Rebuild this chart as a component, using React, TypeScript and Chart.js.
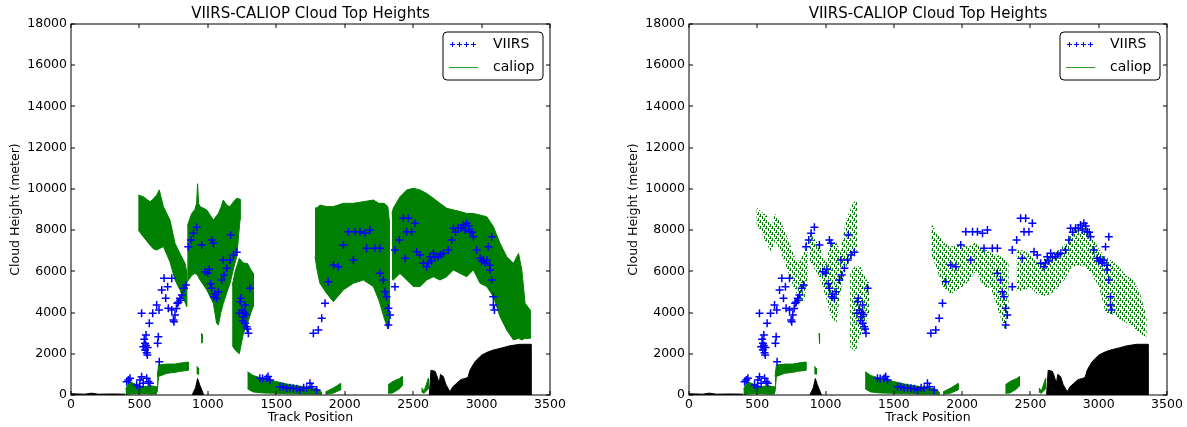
import React, { useEffect, useRef } from 'react';
import { Chart, registerables } from 'chart.js';
Chart.register(...registerables);

const TITLE = 'VIIRS-CALIOP Cloud Top Heights';
const X_LABEL = 'Track Position';
const Y_LABEL = 'Cloud Height (meter)';
const LEGEND_LABELS = ['VIIRS', 'caliop'];
const xTicks = [0, 500, 1000, 1500, 2000, 2500, 3000, 3500];
const yTicks = [0, 2000, 4000, 6000, 8000, 10000, 12000, 14000, 16000, 18000];

// VIIRS cloud top heights (track position, meters)
const viirsX = [
  419, 431, 407, 480, 504, 516, 528, 553, 577, 565, 500, 516, 548, 541, 528, 541, 558, 535, 548, 560, 553,
  572, 597, 638, 633, 645, 626, 643, 663, 680, 706, 692, 736, 711, 736, 748, 752, 760, 770, 777, 785, 796,
  800, 809, 826, 840, 857, 877, 894, 918, 955, 1028, 1040, 979, 999, 1010, 1020, 1028, 1045, 1050, 1064,
  1077, 1101, 1118, 1138, 1162, 1187, 1211, 1113, 1167, 1235, 1240, 1248, 1255, 1260, 1265, 1272, 1278,
  1290, 1296, 1284, 1308, 1230, 1272, 1380, 1400, 1429, 1440, 1454, 1527, 1550, 1576, 1600, 1625, 1650,
  1673, 1700, 1722, 1746, 1760, 1795, 1771, 1807, 1832, 1856, 1880, 1917, 1954, 1990, 2027, 2076, 2112,
  2149, 2185, 2063, 2160, 2221, 2258, 2258, 2282, 2294, 2306, 2319, 2331, 2319, 2367, 2367, 2399, 2428,
  2465, 2453, 2489, 2514, 2526, 2441, 2550, 2575, 2599, 2610, 2623, 2635, 2648, 2660, 2684, 2700, 2721,
  2757, 2782, 2794, 2810, 2830, 2850, 2867, 2880, 2891, 2905, 2916, 2930, 2940, 2964, 2989, 3000, 3013,
  3025, 3038, 3050, 3060, 3074, 3062, 3074, 3086, 3086, 3094,
];
const viirsY = [
  727, 808, 646, 485, 727, 889, 566, 808, 566, 646, 405, 3962, 2911, 2507, 2345, 2183, 1940, 2700, 2400, 2300, 2050,
  3477, 3962, 2831, 2507, 1617, 4366, 4124, 5095, 5661, 5257, 4690, 5661, 4205, 4124, 3639, 3550, 3882, 4200, 4447, 4500, 4690,
  4600, 4851, 5176, 5337, 7197, 7521, 7844, 8135, 7278, 7521, 7359, 5985, 5904, 6100, 5400, 5176, 4771, 4900, 4690,
  5014, 5580, 5823, 6147, 6550, 6793, 6922, 6550, 7763, 4528, 4700, 4124, 3600, 3801, 4000, 3477, 3900,
  3200, 2992, 3316, 5176, 3962, 4366, 808, 800, 808, 900, 727, 405, 400, 323, 350, 323, 300,
  243, 350, 323, 566, 400, 243, 2992, 3154, 3720, 4447, 5499, 6308, 6227, 7278, 7925, 7925, 7925,
  7844, 8006, 6550, 7116, 7116, 7116, 5904, 5580, 5014, 4771, 4205, 3882, 3397, 5257, 7036, 7521, 8572,
  8572, 7925, 7925, 8329, 6955, 6631, 6793, 6389, 6227, 6400, 6712, 6500, 6874, 6700, 6712, 6800, 6874,
  7036, 7521, 8087, 7900, 8087, 8100, 8248, 8000, 8329, 8200, 7925, 7900, 7682, 7036, 6631, 6500, 6550,
  6400, 6550, 7197, 6300, 7682, 6065, 5580, 4771, 4366, 4124,
];

// CALIOP upper cloud layer envelope (dense profile, left panel); null separates segments
const caliopX = [
  492, 528, 577, 600, 626, 645, 675, 723, 760, 796, 833, 845, null,
  850, 882, 905, 918, 925, 932, 943, 992, 1040, 1064, 1077, 1095, 1113, 1140, 1162, 1190, 1211, 1235, null,
  1178, 1200, 1230, 1260, 1290, 1315, 1332, null,
  1783, 1800, 1819, 1868, 1917, 1990, 2063, 2136, 2209, 2250, 2290, 2315, 2325, null,
  2345, 2355, 2404, 2453, 2502, 2550, 2599, 2648, 2696, 2745, 2794, 2843, 2891, 2940, 2989, 3038, 3086, 3135,
  3184, 3233, 3270, 3294, 3318, 3355,
];
const caliopTop = [
  9700, 9620, 9380, 9500, 9700, 9950, 9140, 8490, 7360, 6870, 6390, 6000, null,
  8200, 8810, 9000, 9300, 10250, 9300, 9140, 8980, 8490, 8700, 8810, 9100, 9460, 9200, 9140, 9400, 9540, 9500, null,
  5300, 6000, 6630, 6400, 6380, 6070, 5900, null,
  9060, 9100, 9220, 9140, 9140, 9300, 9300, 9380, 9460, 9300, 9300, 9140, 8500, null,
  8800, 9060, 9620, 9950, 10030, 9950, 9780, 9540, 9300, 9060, 8980, 8900, 8810, 8810, 8730, 8650, 8170, 7360,
  6710, 6390, 6870, 6070, 4450, 4120,
];
const caliopBottom = [
  8000, 7680, 7280, 7100, 7030, 7100, 7200, 6470, 5580, 5100, 4500, 4300, null,
  5500, 5800, 5900, 5850, 5800, 5700, 5580, 5100, 4450, 3480, 3400, 4000, 4450, 5000, 5420, 6200, 6710, 8490, null,
  2400, 2180, 2000, 3000, 3480, 4000, 4300, null,
  6710, 6000, 5420, 4930, 4530, 5100, 5420, 5580, 5260, 4600, 3700, 3200, 3400, null,
  5600, 5580, 5900, 5580, 5260, 5260, 5580, 5740, 5580, 5740, 6070, 5900, 5740, 6070, 5420, 5260, 4770, 3800,
  3150, 2670, 2750, 2670, 2750, 2750,
];

// CALIOP upper layer, filtered (right panel)
const caliopFiltX = [
  495, 530, 570, 605, 630, 680, 730, 780, 815, 840, 870, null,
  880, 950, 1000, 1040, 1080, 1110, 1150, 1200, 1230, null,
  1180, 1220, 1260, 1300, 1325, null,
  1776, 1862, 1920, 1990, 2050, 2100, 2160, 2210, 2260, 2310, 2340, null,
  2400, 2450, 2500, 2550, 2600, 2650, 2700, 2750, 2800, 2850, 2900, 2950, 3000, 3050, 3100, 3150, 3200, 3250, 3300, 3350,
];
const caliopFiltTop = [
  9100, 8900, 8700, 8200, 8800, 8300, 7500, 6600, 6500, 6900, 7800, null,
  7900, 7300, 6400, 7400, 7400, 7000, 8500, 9300, 9500, null,
  5900, 6300, 6200, 5600, 5400, null,
  8300, 7400, 7200, 7300, 7200, 7400, 7100, 6900, 6800, 6600, 6400, null,
  7100, 7000, 6800, 6500, 6600, 6900, 7000, 7300, 8000, 8200, 8100, 7700, 7100, 6700, 6500, 6200, 5800, 5600, 5000, 3800,
];
const caliopFiltBottom = [
  8300, 7900, 7300, 6900, 7500, 6800, 5900, 5000, 4700, 4400, 5600, null,
  6500, 5800, 4800, 3800, 3500, 5000, 6200, 6800, 7000, null,
  2300, 2100, 3000, 3600, 4100, null,
  6800, 5200, 4900, 5200, 5500, 6000, 5200, 5200, 4200, 3200, 4200, null,
  5000, 5100, 5200, 4900, 4800, 4900, 5200, 5600, 6200, 6300, 6200, 5800, 5300, 4000, 3900, 3700, 3500, 3300, 3000, 2800,
];

// CALIOP low cloud envelope (both panels)
const caliopLowX = [
  400, 430, 480, 530, 580, 625, null,
  630, 640, 700, 760, 800, 856, null,
  918, 932, null,
  952, 958, null,
  1290, 1330, 1400, 1500, 1600, 1700, 1800, 1830, null,
  1860, 1920, 1970, null,
  2317, 2350, 2400, 2420, null,
  2562, 2580, 2611,
];
const caliopLowTop = [
  300, 650, 500, 400, 450, 400, null,
  900, 1450, 1500, 1500, 1550, 1600, null,
  1400, 1300, null,
  3000, 2950, null,
  1130, 950, 800, 650, 500, 400, 300, 150, null,
  150, 350, 560, null,
  500, 650, 800, 900, null,
  350, 200, 800,
];
const caliopLowBottom = [
  0, 50, 60, 60, 50, 50, null,
  150, 900, 1050, 1100, 1150, 1200, null,
  1050, 1000, null,
  2500, 2550, null,
  300, 150, 100, 80, 60, 50, 50, 40, null,
  40, 100, 250, null,
  80, 100, 300, 450, null,
  150, 80, 300,
];

// Surface elevation (black)
const terrainX = [
  0, 100, 150, 200, 300, 395, null,
  885, 910, 925, 940, 970, null,
  2618, 2630, 2660, 2670, 2690, 2700, 2720, 2740, 2769, 2790, 2818, 2850, 2879, 2900, 2916, 2952, 3001, 3050,
  3086, 3135, 3208, 3281, 3361, 3361,
];
const terrainY = [
  60, 40, 90, 40, 50, 40, null,
  0, 350, 800, 500, 0, null,
  0, 1200, 1150, 1000, 570, 1000, 900, 500, 160, 400, 570, 750, 800, 850, 1210, 1620, 1940, 2100,
  2180, 2260, 2390, 2460, 2460, 0,
];

const GREEN = '#008000';
const BLUE = '#0000ff';
const FONT = '"DejaVu Sans", sans-serif';

function splitSegments(xs: (number | null)[], a: (number | null)[], b: (number | null)[]) {
  const segs: { x: number; top: number; bot: number }[][] = [];
  let cur: { x: number; top: number; bot: number }[] = [];
  xs.forEach((x, i) => {
    if (x === null) {
      if (cur.length) segs.push(cur);
      cur = [];
    } else cur.push({ x, top: a[i] as number, bot: b[i] as number });
  });
  if (cur.length) segs.push(cur);
  return segs;
}

// one closed polygon (top edge forward, bottom edge back) per segment
function bandDatasets(xs: any[], tops: any[], bots: any[], fill: any, edge: string, edgeWidth: number) {
  return splitSegments(xs, tops, bots).map((seg) => {
    const poly = [
      ...seg.map((p) => ({ x: p.x, y: p.top })),
      ...seg
        .slice()
        .reverse()
        .map((p) => ({ x: p.x, y: p.bot })),
    ];
    return {
      data: poly,
      fill: 'shape',
      backgroundColor: fill,
      borderColor: edge,
      borderWidth: edgeWidth,
      pointRadius: 0,
      showLine: true,
    };
  });
}

function withGaps(xs: any[], ys: any[]) {
  let last = 0;
  return xs.map((x, i) => {
    if (x === null) return { x: last, y: null };
    last = x;
    return { x, y: ys[i] };
  });
}

const decorPlugin = {
  id: 'decor',
  afterDraw(chart: any) {
    const { ctx, chartArea: a, scales } = chart;
    ctx.save();
    ctx.strokeStyle = '#000';
    ctx.lineWidth = 1;
    ctx.strokeRect(Math.round(a.left), Math.round(a.top), Math.round(a.right - a.left), Math.round(a.bottom - a.top));
    const L = 4;
    ctx.beginPath();
    xTicks.forEach((v) => {
      const px = Math.round(scales.x.getPixelForValue(v));
      ctx.moveTo(px, a.bottom);
      ctx.lineTo(px, a.bottom - L);
      ctx.moveTo(px, a.top);
      ctx.lineTo(px, a.top + L);
    });
    yTicks.forEach((v) => {
      const py = Math.round(scales.y.getPixelForValue(v));
      ctx.moveTo(a.left, py);
      ctx.lineTo(a.left + L, py);
      ctx.moveTo(a.right, py);
      ctx.lineTo(a.right - L, py);
    });
    ctx.stroke();
    ctx.fillStyle = '#000';
    ctx.font = `15px ${FONT}`;
    ctx.textAlign = 'center';
    ctx.textBaseline = 'middle';
    ctx.fillText(TITLE, (a.left + a.right) / 2, 14.5);
    const lx = Math.round(a.right - 107);
    const ly = Math.round(a.top + 8);
    const lw = 100;
    const lh = 48;
    const r = 4;
    ctx.beginPath();
    ctx.moveTo(lx + r, ly);
    ctx.lineTo(lx + lw - r, ly);
    ctx.arcTo(lx + lw, ly, lx + lw, ly + r, r);
    ctx.lineTo(lx + lw, ly + lh - r);
    ctx.arcTo(lx + lw, ly + lh, lx + lw - r, ly + lh, r);
    ctx.lineTo(lx + r, ly + lh);
    ctx.arcTo(lx, ly + lh, lx, ly + lh - r, r);
    ctx.lineTo(lx, ly + r);
    ctx.arcTo(lx, ly, lx + r, ly, r);
    ctx.closePath();
    ctx.fillStyle = '#fff';
    ctx.fill();
    ctx.strokeStyle = '#000';
    ctx.stroke();
    ctx.strokeStyle = BLUE;
    ctx.lineWidth = 1;
    ctx.beginPath();
    for (let k = 0; k < 4; k++) {
      const cx = lx + 9.5 + k * 7;
      const cy = ly + 12.5;
      ctx.moveTo(cx - 2.5, cy);
      ctx.lineTo(cx + 2.5, cy);
      ctx.moveTo(cx, cy - 2.5);
      ctx.lineTo(cx, cy + 2.5);
    }
    ctx.stroke();
    ctx.strokeStyle = '#2a9a2a';
    ctx.lineWidth = 1;
    ctx.beginPath();
    ctx.moveTo(lx + 6, ly + 35.5);
    ctx.lineTo(lx + 35, ly + 35.5);
    ctx.stroke();
    ctx.fillStyle = '#000';
    ctx.font = `14px ${FONT}`;
    ctx.textAlign = 'left';
    ctx.fillText(LEGEND_LABELS[0], lx + 50, ly + 12.5);
    ctx.fillText(LEGEND_LABELS[1], lx + 50, ly + 35);
    ctx.restore();
  },
};

function makeConfig(filtered: boolean, pattern: any, rightPad: number) {
  const upper = filtered
    ? bandDatasets(caliopFiltX, caliopFiltTop, caliopFiltBottom, pattern, 'rgba(0,0,0,0)', 0)
    : bandDatasets(caliopX, caliopTop, caliopBottom, GREEN, GREEN, 1);
  const datasets: any[] = [
    {
      label: 'VIIRS',
      data: viirsX.map((x, i) => ({ x, y: viirsY[i] })),
      showLine: false,
      pointStyle: 'cross',
      pointRadius: 4,
      pointBorderWidth: 1.5,
      borderColor: BLUE,
      backgroundColor: BLUE,
    },
    ...upper,
    ...bandDatasets(caliopLowX, caliopLowTop, caliopLowBottom, GREEN, GREEN, 1),
    {
      label: 'terrain',
      data: withGaps(terrainX, terrainY),
      fill: 'origin',
      backgroundColor: '#000',
      borderColor: '#000',
      borderWidth: 1,
      pointRadius: 0,
      showLine: true,
    },
  ];
  return {
    type: 'line',
    data: { datasets },
    plugins: [decorPlugin],
    options: {
      animation: false,
      responsive: false,
      spanGaps: false,
      elements: { line: { tension: 0 } },
      layout: { padding: { top: 24, right: rightPad, left: 0, bottom: 0 } },
      plugins: { legend: { display: false }, tooltip: { enabled: false }, title: { display: false } },
      scales: {
        x: {
          type: 'linear',
          min: 0,
          max: 3500,
          grid: { display: false, drawTicks: false },
          border: { display: false },
          afterBuildTicks: (s: any) => {
            s.ticks = xTicks.map((v) => ({ value: v }));
          },
          afterFit: (s: any) => {
            s.height = 32;
          },
          ticks: {
            autoSkip: false,
            maxRotation: 0,
            padding: 2,
            color: '#000',
            font: { family: FONT, size: 12.5 },
            callback: (v: any) => String(v),
          },
          title: {
            display: true,
            text: X_LABEL,
            color: '#000',
            font: { family: FONT, size: 12.5 },
            padding: { top: 0, bottom: 1.5 },
          },
        },
        y: {
          type: 'linear',
          min: 0,
          max: 18000,
          grid: { display: false, drawTicks: false },
          border: { display: false },
          afterBuildTicks: (s: any) => {
            s.ticks = yTicks.map((v) => ({ value: v }));
          },
          afterFit: (s: any) => {
            s.width = 71;
          },
          ticks: {
            autoSkip: false,
            padding: 4,
            color: '#000',
            font: { family: FONT, size: 12.5 },
            callback: (v: any) => String(v),
          },
          title: {
            display: true,
            text: Y_LABEL,
            color: '#000',
            font: { family: FONT, size: 12.5 },
            padding: { top: 8.5, bottom: 0 },
          },
        },
      },
    },
  };
}

// speckled vertical-dash texture for the sparse (filtered) CALIOP returns
function makePattern(ctx: CanvasRenderingContext2D) {
  const c = document.createElement('canvas');
  c.width = 6;
  c.height = 6;
  const p = c.getContext('2d') as CanvasRenderingContext2D;
  p.fillStyle = GREEN;
  p.fillRect(0, 0, 1, 3);
  p.fillRect(2, 2, 1, 3);
  p.fillRect(4, 4, 1, 2);
  p.fillRect(4, 0, 1, 1);
  p.fillRect(1, 4, 1, 1);
  p.fillRect(3, 0, 1, 1);
  return ctx.createPattern(c, 'repeat');
}

export default function App() {
  const leftRef = useRef<HTMLCanvasElement>(null);
  const rightRef = useRef<HTMLCanvasElement>(null);
  useEffect(() => {
    const c1 = leftRef.current as HTMLCanvasElement;
    const c2 = rightRef.current as HTMLCanvasElement;
    const ctx2 = c2.getContext('2d') as CanvasRenderingContext2D;
    const chart1 = new Chart(c1, makeConfig(false, null, 50) as any);
    const chart2 = new Chart(c2, makeConfig(true, makePattern(ctx2), 20) as any);
    return () => {
      chart1.destroy();
      chart2.destroy();
    };
  }, []);
  return (
    <div style={{ position: 'absolute', left: 0, top: 0, width: 1187, height: 427, overflow: 'hidden', background: '#fff' }}>
      <canvas ref={leftRef} width={600} height={427} style={{ position: 'absolute', left: 0, top: 0 }} />
      <canvas ref={rightRef} width={569} height={427} style={{ position: 'absolute', left: 618, top: 0 }} />
    </div>
  );
}
